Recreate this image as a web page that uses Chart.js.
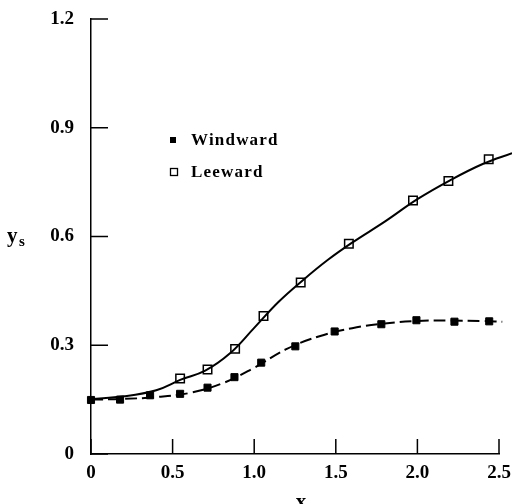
<!DOCTYPE html>
<html>
<head>
<meta charset="utf-8">
<script src="https://cdn.jsdelivr.net/npm/chart.js@4.4.0/dist/chart.umd.min.js"></script>
<style>
  html, body { margin: 0; padding: 0; background: #fff; }
  #wrap { width: 512px; height: 504px; }
</style>
</head>
<body>
<div id="wrap"><canvas id="chart" width="512" height="504"></canvas></div>
<script>
// tick values
const xTicks = [0, 0.5, 1.0, 1.5, 2.0, 2.5];
const yTicks = [0, 0.3, 0.6, 0.9, 1.2];

// measured points
const windX = [0, 0.178, 0.362, 0.546, 0.714, 0.879, 1.043, 1.252, 1.493, 1.779, 1.994, 2.227, 2.44];
const windY = [0.149, 0.150, 0.162, 0.166, 0.183, 0.212, 0.252, 0.297, 0.338, 0.358, 0.369, 0.365, 0.366];
const leeX  = [0.546, 0.714, 0.883, 1.057, 1.285, 1.58, 1.973, 2.19, 2.437];
const leeY  = [0.208, 0.233, 0.290, 0.381, 0.473, 0.580, 0.699, 0.753, 0.813];

// fitted curves
const leeCurveX  = [0, 0.2, 0.4, 0.55, 0.7, 0.85, 1.0, 1.15, 1.3, 1.45, 1.6, 1.8, 2.0, 2.2, 2.4, 2.58];
const leeCurveY  = [0.152, 0.159, 0.176, 0.205, 0.230, 0.277, 0.348, 0.420, 0.480, 0.535, 0.583, 0.641, 0.703, 0.755, 0.800, 0.830];
const windCurveX = [0, 0.2, 0.4, 0.6, 0.8, 1.0, 1.2, 1.4, 1.6, 1.8, 2.0, 2.2, 2.4, 2.52];
const windCurveY = [0.150, 0.152, 0.157, 0.168, 0.194, 0.238, 0.290, 0.325, 0.347, 0.360, 0.367, 0.368, 0.367, 0.365];

const FONT = '"Liberation Serif", "Times New Roman", serif';
const pts = (xs, ys) => xs.map((x, i) => ({ x: x, y: ys[i] }));

// inward tick marks, legend and axis titles
const decor = {
  id: 'decor',
  afterDraw(chart) {
    const ctx = chart.ctx;
    const a = chart.chartArea;
    const xs = chart.scales.x, ys = chart.scales.y;
    ctx.save();
    ctx.strokeStyle = '#000';
    ctx.lineWidth = 1.5;
    ctx.beginPath();
    yTicks.forEach(v => {
      const py = ys.getPixelForValue(v);
      ctx.moveTo(a.left, py);
      ctx.lineTo(a.left + 17, py);
    });
    xTicks.forEach(v => {
      const px = xs.getPixelForValue(v);
      ctx.moveTo(px, a.bottom);
      ctx.lineTo(px, a.bottom - 15);
    });
    ctx.stroke();

    // legend
    ctx.fillStyle = '#000';
    ctx.fillRect(a.left + 79, 137, 6, 6);
    ctx.fillStyle = '#fff';
    ctx.lineWidth = 1.3;
    ctx.fillRect(a.left + 79.5, 168.5, 7, 7);
    ctx.strokeRect(a.left + 79.5, 168.5, 7, 7);

    ctx.fillStyle = '#000';
    ctx.font = 'bold 17px ' + FONT;
    ctx.letterSpacing = '1.2px';
    ctx.textAlign = 'left';
    ctx.textBaseline = 'alphabetic';
    ctx.fillText('Windward', a.left + 100, 145);
    ctx.fillText('Leeward', a.left + 100, 177);
    ctx.letterSpacing = '0px';

    // y title
    ctx.font = 'bold 21px ' + FONT;
    ctx.fillText('y', 7, 242);
    ctx.font = 'bold 15px ' + FONT;
    ctx.fillText('s', 19, 246);

    // x title
    ctx.font = 'bold 21px ' + FONT;
    ctx.textAlign = 'center';
    ctx.fillText('x', (a.left + a.right) / 2 + 6, 508);
    ctx.restore();
  }
};

const tickFmt = v => v === 0 ? '0' : v.toFixed(1);

new Chart(document.getElementById('chart'), {
  type: 'scatter',
  data: {
    datasets: [
      {
        label: 'Leeward fit',
        data: pts(leeCurveX, leeCurveY),
        showLine: true,
        borderColor: '#000',
        borderWidth: 2,
        pointRadius: 0,
        tension: 0.4,
        clip: 20
      },
      {
        label: 'Windward fit',
        data: pts(windCurveX, windCurveY),
        showLine: true,
        borderColor: '#000',
        borderWidth: 2,
        borderDash: [12, 5],
        pointRadius: 0,
        tension: 0.4,
        clip: 20
      },
      {
        label: 'Leeward',
        data: pts(leeX, leeY),
        pointStyle: 'rect',
        pointRadius: 6,
        pointBackgroundColor: '#fff',
        pointBorderColor: '#000',
        pointBorderWidth: 1.5,
        clip: false
      },
      {
        label: 'Windward',
        data: pts(windX, windY),
        pointStyle: 'rect',
        pointRadius: 5,
        pointBackgroundColor: '#000',
        pointBorderColor: '#000',
        pointBorderWidth: 1,
        clip: false
      }
    ]
  },
  options: {
    responsive: false,
    animation: false,
    layout: { padding: { top: 19, right: 13, left: 0, bottom: 0 } },
    plugins: {
      legend: { display: false },
      tooltip: { enabled: false }
    },
    scales: {
      x: {
        type: 'linear',
        min: 0,
        max: 2.5,
        afterBuildTicks: s => { s.ticks = xTicks.map(v => ({ value: v })); },
        afterFit: s => { s.height = 50; s.paddingLeft = 0; s.paddingRight = 0; },
        grid: { display: true, drawOnChartArea: false, drawTicks: false },
        border: { display: true, color: '#000', width: 1.5 },
        ticks: {
          color: '#000',
          padding: 8,
          font: { family: FONT, size: 19, weight: 'bold' },
          callback: tickFmt,
          maxRotation: 0
        }
      },
      y: {
        type: 'linear',
        min: 0,
        max: 1.2,
        afterBuildTicks: s => { s.ticks = yTicks.map(v => ({ value: v })); },
        afterFit: s => { s.width = 91; s.paddingTop = 0; s.paddingBottom = 0; },
        grid: { display: true, drawOnChartArea: false, drawTicks: false },
        border: { display: true, color: '#000', width: 1.5 },
        ticks: {
          color: '#000',
          padding: 17,
          font: { family: FONT, size: 19, weight: 'bold' },
          callback: tickFmt
        }
      }
    }
  },
  plugins: [decor]
});
</script>
</body>
</html>
